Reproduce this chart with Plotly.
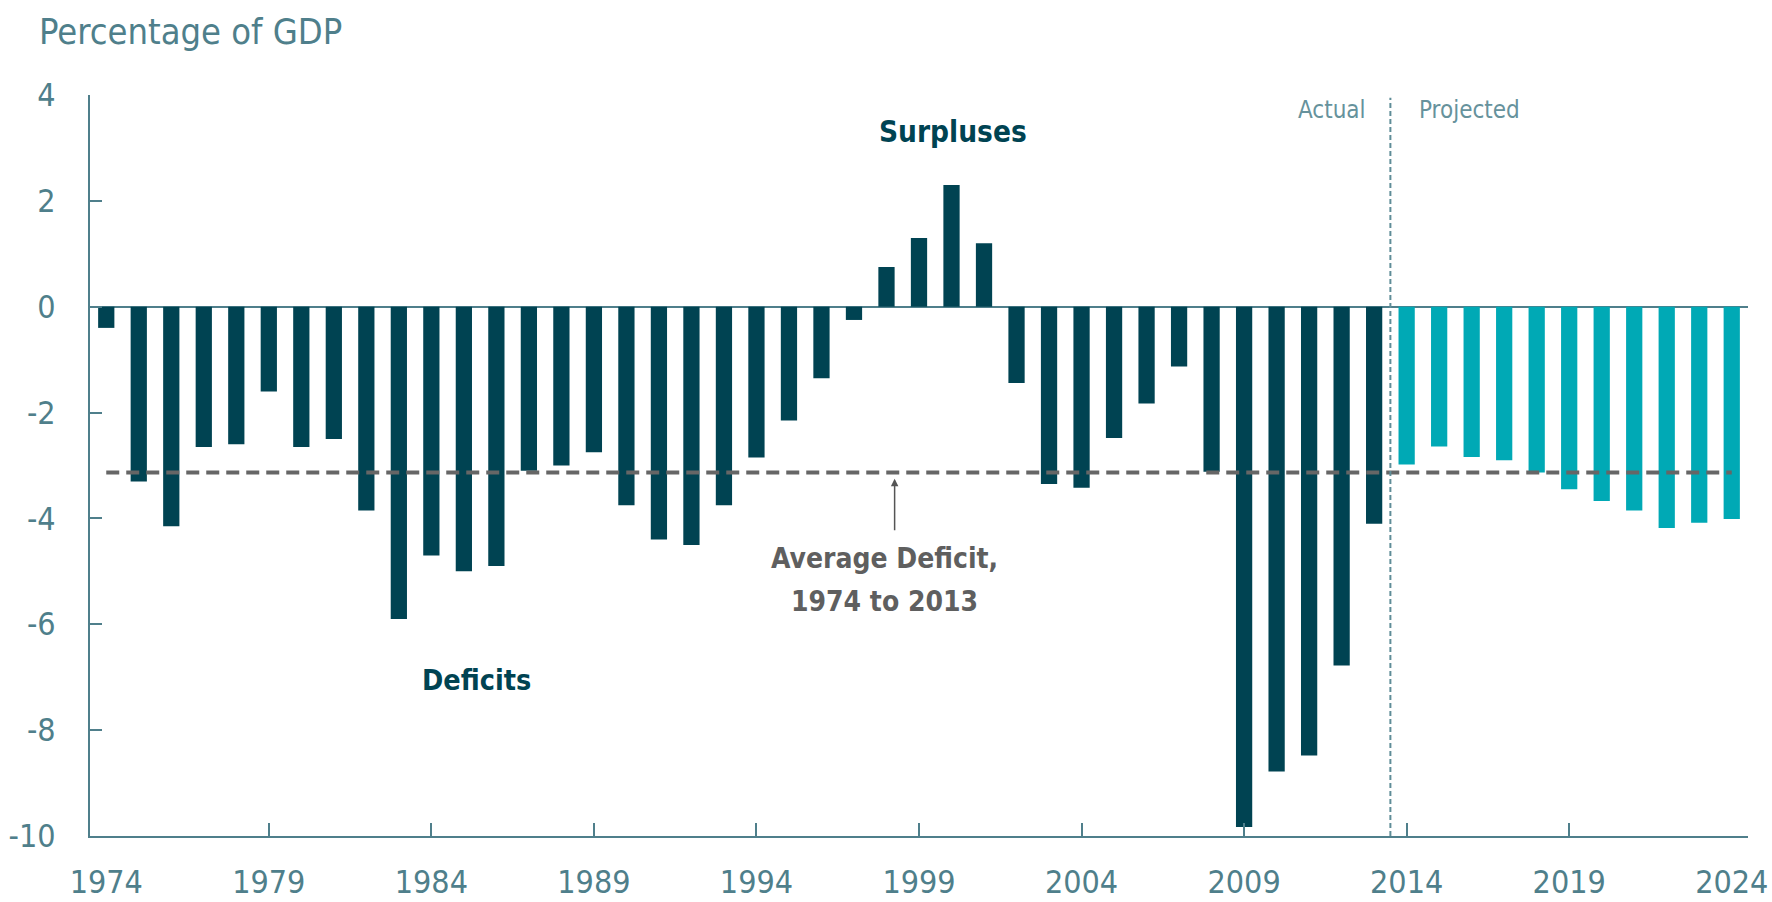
import numpy as np
import plotly.graph_objects as go

# ---- data ----
actual_years = list(range(1974, 2014))
actual_values = [-0.4, -3.3, -4.15, -2.65, -2.6, -1.6, -2.65, -2.5, -3.85, -5.9,
                 -4.7, -5.0, -4.9, -3.1, -3.0, -2.75, -3.75, -4.4, -4.5, -3.75,
                 -2.85, -2.15, -1.35, -0.25, 0.75, 1.3, 2.3, 1.2, -1.44, -3.35,
                 -3.42, -2.48, -1.83, -1.13, -3.12, -9.83, -8.78, -8.48, -6.78, -4.1]
projected_years = list(range(2014, 2025))
projected_values = [-2.98, -2.64, -2.84, -2.9, -3.13, -3.45, -3.67, -3.85, -4.18, -4.08, -4.01]

x_tick_labels = list(range(1974, 2025, 5))
y_tick_values = list(range(-10, 5, 2))

avg_deficit = float(np.mean(actual_values))  # average 1974 to 2013

AXIS = "#4f7f8b"
LIGHT = "#66929c"
DARK = "#004352"
TEAL = "#00a9b5"
GRAY = "#666666"
FONT = "Liberation Sans Narrow, DejaVu Sans Condensed, Roboto, sans-serif"

fig = go.Figure()
fig.add_bar(x=actual_years, y=actual_values, width=0.5,
            marker=dict(color=DARK, line=dict(width=0)), name="Actual")
fig.add_bar(x=projected_years, y=projected_values, width=0.5,
            marker=dict(color=TEAL, line=dict(width=0)), name="Projected")
fig.add_scatter(x=[actual_years[0], projected_years[-1]], y=[avg_deficit, avg_deficit],
                mode="lines", xaxis="x2",
                line=dict(color=GRAY, width=4, dash="13px,7px"), name="Average")

fig.add_shape(type="line", xref="x", yref="y", x0=2013.5, x1=2013.5, y0=-10, y1=3.95,
              line=dict(color="#5f8d98", width=2, dash="5px,3px"))

fig.update_layout(
    width=1772, height=902,
    margin=dict(l=90, r=24, t=94.5, b=65.5),
    plot_bgcolor="white", paper_bgcolor="white",
    showlegend=False, barmode="overlay",
    font=dict(family=FONT, color=AXIS),
    xaxis=dict(range=[1973.5, 2024.5], tickvals=x_tick_labels,
               ticktext=[str(v) for v in x_tick_labels], ticks="",
               showline=True, linecolor=AXIS, linewidth=2, showgrid=False,
               zeroline=False, tickfont=dict(size=32, color=AXIS, family=FONT),
               ticklabelstandoff=17, automargin=False),
    xaxis2=dict(range=[1973.5, 2024.5], overlaying="x", anchor="y", side="bottom",
                tickvals=x_tick_labels[1:-1] + [2024.5], ticks="inside", ticklen=13,
                tickwidth=2, tickcolor=AXIS, showticklabels=False, showgrid=False,
                showline=False, zeroline=False, automargin=False),
    yaxis=dict(range=[-10, 4], tickvals=y_tick_values,
               ticktext=[str(v) for v in y_tick_values],
               ticks="inside", ticklen=12, tickwidth=2, tickcolor=AXIS,
               showline=True, linecolor=AXIS, linewidth=2, showgrid=False,
               zeroline=True, zerolinecolor=AXIS, zerolinewidth=2,
               tickfont=dict(size=32, color=AXIS, family=FONT),
               ticklabelstandoff=26, automargin=False),
)

ann = [
    dict(text="Percentage of GDP", xref="paper", yref="paper", x=-0.032, y=1.0856,
         xanchor="left", yanchor="middle", showarrow=False,
         font=dict(size=36, color=AXIS, family=FONT)),
    dict(text="Actual", xref="x", yref="y", x=2012.82, y=3.71, xanchor="right",
         yanchor="middle", showarrow=False, font=dict(size=24, color=LIGHT, family=FONT)),
    dict(text="Projected", xref="x", yref="y", x=2014.33, y=3.71, xanchor="left",
         yanchor="middle", showarrow=False, font=dict(size=24, color=LIGHT, family=FONT)),
    dict(text="<b>Surpluses</b>", xref="x", yref="y", x=2000.05, y=3.31,
         showarrow=False, font=dict(size=29.5, color=DARK, family=FONT)),
    dict(text="<b>Deficits</b>", xref="x", yref="y", x=1985.4, y=-7.07,
         showarrow=False, font=dict(size=28.5, color=DARK, family=FONT)),
    dict(text="<b>Average Deficit,</b>", xref="x", yref="y",
         x=1997.93, y=-4.76, showarrow=False,
         font=dict(size=28, color="#5f5f5f", family=FONT)),
    dict(text="<b>1974 to 2013</b>", xref="x", yref="y",
         x=1997.93, y=-5.56, showarrow=False,
         font=dict(size=28, color="#5f5f5f", family=FONT)),
    dict(text="", xref="x", yref="y", x=1998.25, y=-3.25, axref="x", ayref="y",
         ax=1998.25, ay=-4.25, showarrow=True, arrowhead=2, arrowsize=1,
         arrowwidth=1.5, arrowcolor="#555555"),
]
fig.update_layout(annotations=ann)

fig.write_html("out.html", config={"displayModeBar": False},
               post_script="document.body.style.margin='0';")
